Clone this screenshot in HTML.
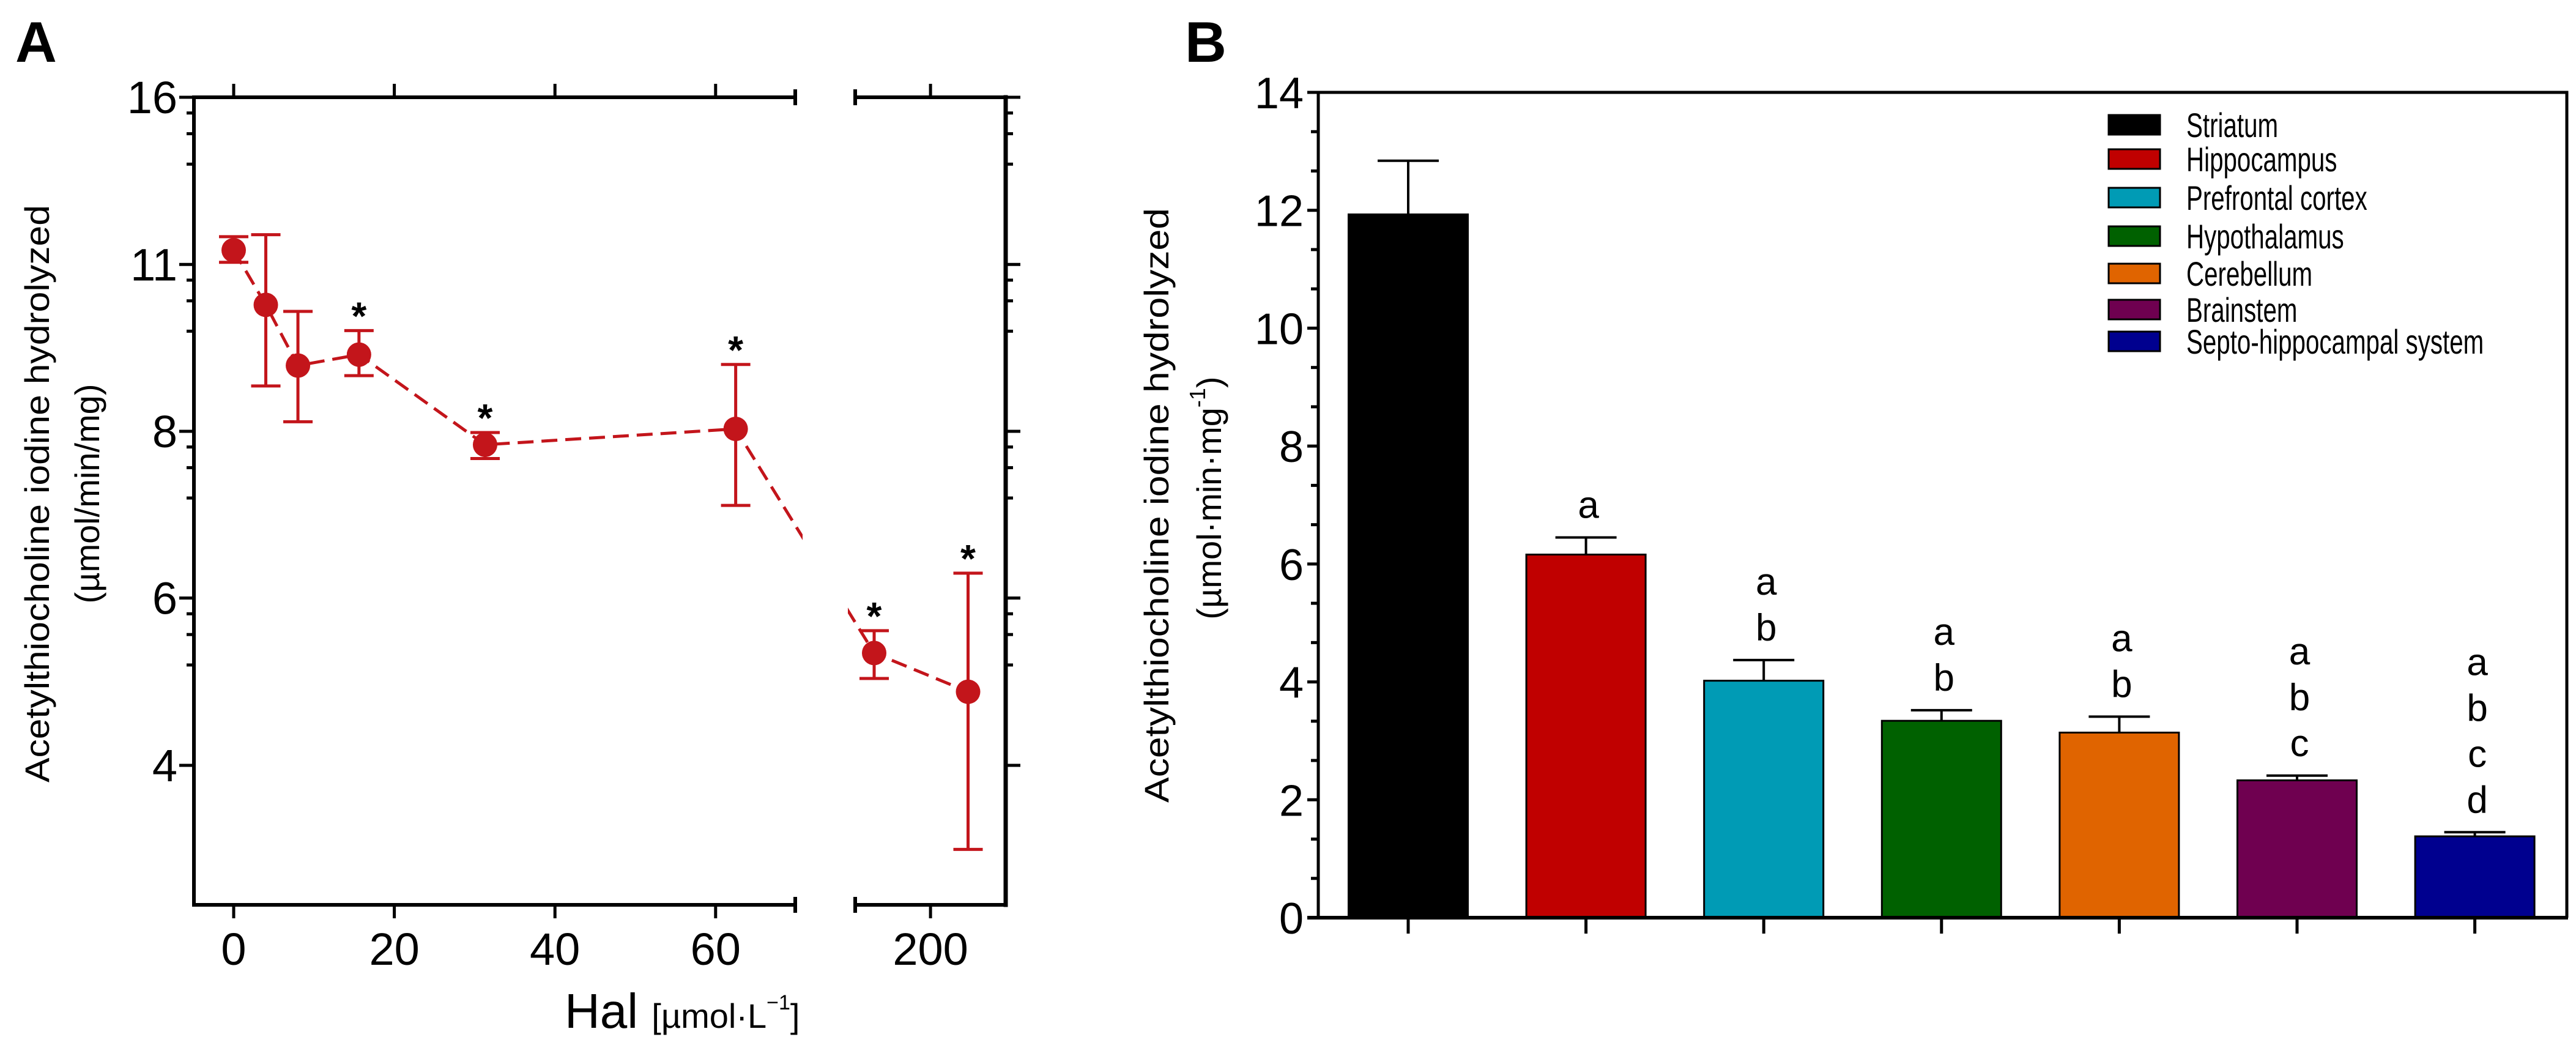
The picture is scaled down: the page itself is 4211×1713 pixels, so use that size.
<!DOCTYPE html>
<html><head><meta charset="utf-8"><style>
html,body{margin:0;padding:0;background:#fff}
svg{display:block;font-family:"Liberation Sans",Arial,sans-serif}
</style></head><body>
<svg id="fig" width="4211" height="1713" viewBox="0 0 4211 1713" xmlns="http://www.w3.org/2000/svg">
<g id="pa"></g>
<g id="pb"></g>
</svg>
<script>
// ---------- Panel A data ----------
const doseA = [0, 4, 8, 15.6, 31.3, 62.5, 125, 250];
const meanA = [11.65, 10.4, 9.17, 9.38, 7.78, 8.04, 5.05, 4.66];
const lowA  = [11.36, 8.79, 8.16, 8.98, 7.56, 6.86, 4.79, 3.36];
const highA = [11.98, 12.03, 10.26, 9.86, 7.98, 9.19, 5.29, 5.96];
const starA = [false, false, false, true, true, true, true, true];
const yTickValsA = [16, 11.31, 8, 5.66, 4];
const yTickTextA = ['16', '11', '8', '6', '4'];
const xTickValsA = [0, 20, 40, 60, 200];
// ---------- Panel B data ----------
const regionsB = ['Striatum','Hippocampus','Prefrontal cortex','Hypothalamus','Cerebellum','Brainstem','Septo-hippocampal system'];
const valuesB = [11.93, 6.16, 4.02, 3.34, 3.14, 2.33, 1.38];
const errorsB = [0.91, 0.29, 0.35, 0.18, 0.27, 0.08, 0.07];
const lettersB = [[], ['a'], ['a','b'], ['a','b'], ['a','b'], ['a','b','c'], ['a','b','c','d']];
const colorsB = ['#000000','#c00000','#009bb5','#006100','#e06400','#6f0050','#00008f'];
const yTickValsB = [0, 2, 4, 6, 8, 10, 12, 14];

const NS = 'http://www.w3.org/2000/svg';
function mk(parent, tag, attrs, text) {
  const e = document.createElementNS(NS, tag);
  for (const k in attrs) e.setAttribute(k, attrs[k]);
  if (text !== undefined) e.textContent = text;
  parent.appendChild(e);
  return e;
}
const red = '#c3151b';

// ===== Panel A =====
const pa = document.getElementById('pa');
const A = {L:317, R:1644, T:159, B:1479, brk0:1300, brk1:1398};
function xA(v) { return v < 100 ? 382 + v * 13.13 : 1429 + (v - 125) * 1.228; }
function yA(v) { return A.T + (Math.log2(16) - Math.log2(v)) * 546; }

let e;
e = mk(pa, 'text', {x: 25, y: 101, 'font-size': 94, 'font-weight': 'bold'}, 'A');



const fr = mk(pa, 'g', {stroke: '#000', 'stroke-width': 6, fill: 'none', 'stroke-linecap': 'square'});


mk(fr, 'path', {d: `M${A.L},${A.T}V${A.B}`});
mk(fr, 'path', {d: `M${A.R},${A.T}V${A.B}`, 'stroke-width': 7});
mk(fr, 'path', {d: `M${A.L},${A.T}H${A.brk0}M${A.brk1},${A.T}H${A.R}`});
mk(fr, 'path', {d: `M${A.L},${A.B}H${A.brk0}M${A.brk1},${A.B}H${A.R}`});
mk(fr, 'path', {d: `M${A.brk0},${A.T-13}v26M${A.brk1},${A.T-13}v26M${A.brk0},${A.B-13}v26M${A.brk1},${A.B-13}v26`, 'stroke-linecap': 'butt'});

const minorFrac = [0.094, 0.218, 0.40];
const yt = mk(pa, 'g', {stroke: '#000', 'stroke-width': 5});


yTickValsA.forEach((v, i) => {
  const y = yA(v);
  mk(yt, 'line', {x1: A.L - 24, x2: A.L, y1: y, y2: y});
  mk(yt, 'line', {x1: A.R, x2: A.R + 24, y1: y, y2: y});
  const t = mk(pa, 'text', {x: 290, y: y + 26, 'font-size': 74, 'text-anchor': 'end'}, yTickTextA[i]);
  
  
  if (i < yTickValsA.length - 1) {
    const seg = yA(yTickValsA[i + 1]) - y;
    minorFrac.forEach(f => {
      const yy = y + f * seg;
      mk(yt, 'line', {x1: A.L - 12, x2: A.L, y1: yy, y2: yy});
      mk(yt, 'line', {x1: A.R, x2: A.R + 12, y1: yy, y2: yy});
    });
  }
});
const xt = mk(pa, 'g', {stroke: '#000', 'stroke-width': 5});


xTickValsA.forEach(v => {
  const x = xA(v);
  mk(xt, 'line', {x1: x, x2: x, y1: A.T - 22, y2: A.T});
  mk(xt, 'line', {x1: x, x2: x, y1: A.B, y2: A.B + 22});
  const t = mk(pa, 'text', {x: x, y: 1577, 'font-size': 74, 'text-anchor': 'middle'}, String(v));
  
  
});
e = mk(pa, 'text', {x: 923, y: 1680, 'font-size': 80}, 'Hal ');


mk(e, 'tspan', {'font-size': 56}, '[µmol·L');
mk(e, 'tspan', {'font-size': 34, dy: -30}, '−1');
mk(e, 'tspan', {'font-size': 56, dy: 30}, ']');
e = mk(pa, 'text', {transform: 'translate(80,807) rotate(-90)', 'font-size': 56, 'text-anchor': 'middle', textLength: 944, lengthAdjust: 'spacingAndGlyphs'}, 'Acetylthiocholine iodine hydrolyzed');


e = mk(pa, 'text', {transform: 'translate(162,807) rotate(-90)', 'font-size': 56, 'text-anchor': 'middle'}, '(µmol/min/mg)');



mk(pa, 'clipPath', {id: 'clipA'}).innerHTML = `<rect x="0" y="0" width="${A.brk0+12}" height="1713"/><rect x="${A.brk1-12}" y="0" width="400" height="1713"/>`;
const line = mk(pa, 'polyline', {points: doseA.map((d, i) => xA(d) + ',' + yA(meanA[i])).join(' '), fill: 'none', stroke: red, 'stroke-width': 5, 'stroke-dasharray': '26 13', 'clip-path': 'url(#clipA)'});


doseA.forEach((d, i) => {
  const x = xA(d);
  const g = mk(pa, 'g', {stroke: red, 'stroke-width': 5, fill: red});
  
  
  mk(g, 'line', {x1: x, x2: x, y1: yA(highA[i]), y2: yA(lowA[i])});
  mk(g, 'line', {x1: x - 24, x2: x + 24, y1: yA(highA[i]), y2: yA(highA[i])});
  mk(g, 'line', {x1: x - 24, x2: x + 24, y1: yA(lowA[i]), y2: yA(lowA[i])});
  mk(g, 'circle', {cx: x, cy: yA(meanA[i]), r: 20, stroke: 'none'});
  if (starA[i]) {
    const s = mk(pa, 'text', {x: x, y: yA(highA[i]) - 2, 'font-size': 64, 'text-anchor': 'middle', 'font-weight': 'bold'}, '*');
    
    
  }
});

// ===== Panel B =====
const pb = document.getElementById('pb');
const B = {L:2155, R:4196, T:151, B:1500};
function yB(v) { return B.B - v * (B.B - B.T) / 14; }
function xB(i) { return 2302 + i * 290.6; }
e = mk(pb, 'text', {x: 1937, y: 101, 'font-size': 94, 'font-weight': 'bold'}, 'B');



const fb = mk(pb, 'g', {stroke: '#000', 'stroke-width': 5, fill: 'none'});


mk(fb, 'path', {d: `M${B.L},${B.B}V${B.T}H${B.R}V${B.B}`});
yTickValsB.forEach((v, i) => {
  const y = yB(v);
  mk(fb, 'line', {x1: B.L - 18, x2: B.L, y1: y, y2: y});
  const t = mk(pb, 'text', {x: 2131, y: y + 26, 'font-size': 72, 'text-anchor': 'end'}, String(v));
  
  
  if (i < yTickValsB.length - 1) {
    [2/3, 4/3].forEach(m => { const yy = yB(v + m); mk(fb, 'line', {x1: B.L - 12, x2: B.L, y1: yy, y2: yy}); });
  }
});
e = mk(pb, 'text', {transform: 'translate(1910,826) rotate(-90)', 'font-size': 56, 'text-anchor': 'middle', textLength: 972, lengthAdjust: 'spacingAndGlyphs'}, 'Acetylthiocholine iodine hydrolyzed');


e = mk(pb, 'text', {transform: 'translate(1996,814) rotate(-90)', 'font-size': 56, 'text-anchor': 'middle'}, '(µmol·min·mg');


mk(e, 'tspan', {'font-size': 36, dy: -26}, '-1');
mk(e, 'tspan', {dy: 26}, ')');

valuesB.forEach((v, i) => {
  const cx = xB(i), w = 195;
  const g = mk(pb, 'g', {});
  
  
  const top = yB(v + errorsB[i]);
  mk(g, 'line', {x1: cx, x2: cx, y1: top, y2: yB(v), stroke: '#000', 'stroke-width': 4});
  mk(g, 'line', {x1: cx - 50, x2: cx + 50, y1: top, y2: top, stroke: '#000', 'stroke-width': 4});
  mk(g, 'rect', {x: cx - w / 2, y: yB(v), width: w, height: B.B - yB(v), fill: colorsB[i], stroke: '#000', 'stroke-width': 3});
  mk(pb, 'line', {x1: cx, x2: cx, y1: B.B, y2: B.B + 26, stroke: '#000', 'stroke-width': 5});
  const L = lettersB[i];
  L.forEach((ch, k) => {
    const t = mk(pb, 'text', {x: cx + 4, y: top - 32 - (L.length - 1 - k) * 75, 'font-size': 62, 'text-anchor': 'middle'}, ch);
    
    
  });
});
mk(pb, 'line', {x1: 2137, x2: B.R + 2, y1: B.B, y2: B.B, stroke: '#000', 'stroke-width': 6});

const lg = mk(pb, 'g', {});


const legY = [204, 260, 323, 386, 447, 506, 558];
regionsB.forEach((r, i) => {
  const le = mk(lg, 'g', {});
  
  
  mk(le, 'rect', {x: 3447, y: legY[i] - 16, width: 84, height: 32, fill: colorsB[i], stroke: '#000', 'stroke-width': 3});
  mk(le, 'text', {transform: `translate(3574,${legY[i] + 20}) scale(0.72,1)`, 'font-size': 56}, r);
});
</script>
</body></html>
